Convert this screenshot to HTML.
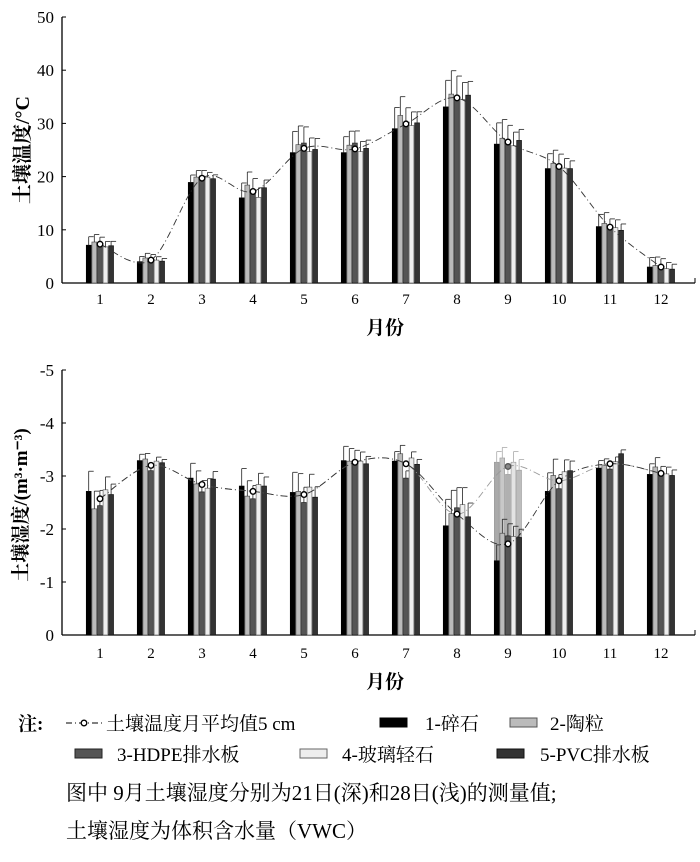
<!DOCTYPE html>
<html><head><meta charset="utf-8"><style>
html,body{margin:0;padding:0;background:#fff;}
svg{display:block;font-family:"Liberation Serif","Noto Serif CJK SC",serif;}
.cj{font-family:"Liberation Serif","Noto Serif CJK SC","Noto Sans CJK SC",serif;}
</style></head><body>
<svg id="c" width="700" height="862" viewBox="0 0 700 862" xmlns="http://www.w3.org/2000/svg">
<g id="top"></g>
<g id="bot"></g>
<g id="legend">
 <text x="18" y="730" font-size="19" font-weight="bold" class="cj">注:</text>
 <line x1="66" y1="723" x2="102" y2="723" stroke="#000" stroke-width="1" stroke-dasharray="6,3,1,3"/>
 <circle cx="84" cy="723" r="2.8" fill="#fff" stroke="#000" stroke-width="1.3"/>
 <text x="106" y="730" font-size="19" class="cj">土壤温度月平均值5 cm</text>
 <rect x="380" y="718" width="27" height="9" fill="#000" stroke="#000"/>
 <text x="425" y="730" font-size="19" class="cj">1-碎石</text>
 <rect x="510" y="718" width="27" height="9" fill="#bbb" stroke="#555"/>
 <text x="550" y="730" font-size="19" class="cj">2-陶粒</text>
 <rect x="75" y="749" width="27" height="9" fill="#555" stroke="#222"/>
 <text x="117" y="761" font-size="19" class="cj">3-HDPE排水板</text>
 <rect x="300" y="749" width="27" height="9" fill="#eee" stroke="#666"/>
 <text x="342" y="761" font-size="19" class="cj">4-玻璃轻石</text>
 <rect x="497" y="749" width="27" height="9" fill="#333" stroke="#111"/>
 <text x="540" y="761" font-size="19" class="cj">5-PVC排水板</text>
 <text x="66" y="800" font-size="21" class="cj">图中 9月土壤湿度分别为21日(深)和28日(浅)的测量值;</text>
 <text x="66" y="838" font-size="21" class="cj">土壤湿度为体积含水量（VWC）</text>
</g>
</svg>
<script>
const months=[1,2,3,4,5,6,7,8,9,10,11,12];
const tempS1=[7.1,4.0,18.9,16.0,24.5,24.5,29.0,33.1,26.1,21.5,10.6,3.0];
const tempS2=[7.7,4.7,19.9,18.4,26.0,25.9,31.5,35.5,27.2,22.5,11.2,3.3];
const tempS3=[7.4,4.6,20.1,17.5,26.3,26.3,29.9,35.1,26.6,22.1,10.3,3.2];
const tempS4=[6.8,4.3,19.9,16.1,24.7,24.7,29.6,34.5,25.8,21.6,10.4,2.7];
const tempS5=[7.0,4.1,19.6,17.9,25.1,25.3,30.1,35.3,26.8,21.5,9.9,2.6];
const tempErr=[1.6,1.0,1.4,2.8,4.0,3.0,4.0,5.0,4.0,2.8,2.3,1.8];
const tempAvg=[7.3,4.3,19.7,17.2,25.3,25.2,29.9,34.8,26.5,21.9,10.5,3.0];
const tempTicks=[0,10,20,30,40,50];
const vwcS1=[2.71,3.29,2.96,2.81,2.69,3.29,3.28,2.06,1.40,2.71,3.15,3.03];
const vwcS2=[2.38,3.32,2.85,2.62,2.71,3.28,3.42,2.29,1.92,3.01,3.20,3.17];
const vwcS3=[2.44,3.10,2.70,2.57,2.50,3.28,2.96,2.40,1.87,2.76,3.13,3.03];
const vwcS4=[2.74,3.28,2.77,2.84,2.79,3.28,3.34,2.46,1.86,3.08,3.27,3.04];
const vwcS5=[2.65,3.25,2.94,2.81,2.60,3.23,3.22,2.23,1.84,3.10,3.42,3.01];
const vwcErr=[0.38,0.12,0.28,0.33,0.38,0.27,0.18,0.5,0.3,0.35,0.14,0.2];
const vwcAvg=[2.57,3.20,2.84,2.71,2.65,3.26,3.23,2.28,1.72,2.91,3.23,3.05];
const vwcDeep=[3.26,3.34,3.03,3.26,3.11];
const vwcDeepAvg=3.18;
const vwcTicks=[0,-1,-2,-3,-4,-5];

const NS="http://www.w3.org/2000/svg";
function mk(p,t,a){const e=document.createElementNS(NS,t);for(const k in a)e.setAttribute(k,a[k]);p.appendChild(e);return e;}
const fills=["#000","#bbb","#555","#eee","#333"];
const strokes=["#000","#555","#222","#666","#111"];
const deepFills=["#aaa","#c8c8c8","#b0b0b0","#e4e4e4","#bdbdbd"];
const xC=m=>100+51*(m-1);
const bw=5.6;
function barX(m,i){return xC(m)-14+i*bw+0.3;}
function smooth(pts){let d="M"+pts[0][0]+","+pts[0][1];
 for(let i=0;i<pts.length-1;i++){const p0=pts[i-1]||pts[i],p1=pts[i],p2=pts[i+1],p3=pts[i+2]||p2;
  d+=" C"+(p1[0]+(p2[0]-p0[0])/6)+","+(p1[1]+(p2[1]-p0[1])/6)+" "+(p2[0]-(p3[0]-p1[0])/6)+","+(p2[1]-(p3[1]-p1[1])/6)+" "+p2[0]+","+p2[1];}
 return d;}

function chart(g,y0,yTop,maxAbs,ticks,xLabelY){
 const yS=v=>y0-(Math.abs(v)/maxAbs)*(y0-yTop);
 const ax=mk(g,'line',{x1:62,y1:yTop,x2:62,y2:y0,stroke:'#000','stroke-width':1.3});
 
 const xa=mk(g,'line',{x1:62,y1:y0,x2:695,y2:y0,stroke:'#000','stroke-width':1.3});
 
 mk(g,'line',{x1:695,y1:y0,x2:695,y2:y0-5,stroke:'#000','stroke-width':1});
 ticks.forEach(t=>{const y=yS(t);
  mk(g,'line',{x1:62,y1:y,x2:66,y2:y,stroke:'#000','stroke-width':1});
  const tx=mk(g,'text',{x:54,y:y+6,'font-size':17,'text-anchor':'end'});tx.textContent=String(t);
  });
 months.forEach(m=>{const tx=mk(g,'text',{x:xC(m),y:xLabelY,'font-size':15,'text-anchor':'middle'});tx.textContent=String(m);
  });
 return yS;}

function drawBars(g,yS,y0,series,err){
 months.forEach((m,j)=>{series.forEach((s,i)=>{const v=s[j];const x=barX(m,i);const y=yS(v);
  const r=mk(g,'rect',{x:x,y:y,width:bw-0.8,height:y0-y,fill:fills[i],stroke:strokes[i],'stroke-width':0.7});
  
  const ye=yS(Math.abs(v)+err[j]*(1-0.12*i));const cx=x+(bw-0.8)/2;
  mk(g,'line',{x1:cx,y1:y,x2:cx,y2:ye,stroke:'#222','stroke-width':0.8});
  mk(g,'line',{x1:cx,y1:ye,x2:cx+5,y2:ye,stroke:'#222','stroke-width':0.8});
 });});}

// top chart
const gt=document.getElementById('top');
const yT=chart(gt,283,17,50,tempTicks,304);
drawBars(gt,yT,283,[tempS1,tempS2,tempS3,tempS4,tempS5],tempErr);
const tp=months.map((m,j)=>[xC(m),yT(tempAvg[j])]);
const tl=mk(gt,'path',{d:smooth(tp),fill:'none',stroke:'#333','stroke-width':0.9,'stroke-dasharray':'7,3,1,3'});

tp.forEach(p=>{const c=mk(gt,'circle',{cx:p[0],cy:p[1],r:2.8,fill:'#fff',stroke:'#000','stroke-width':1.4});
 });
let t1=mk(gt,'text',{x:385,y:334,'font-size':19,'font-weight':'bold','text-anchor':'middle','class':'cj'});t1.textContent='月份';

let t2=mk(gt,'text',{x:0,y:0,'font-size':20,'font-weight':'bold','text-anchor':'middle','class':'cj',transform:'translate(29,150) rotate(-90)'});t2.textContent='土壤温度/°C';


// bottom chart
const gb=document.getElementById('bot');
const yB=chart(gb,635,370,5,vwcTicks,658);
vwcDeep.forEach((v,i)=>{const x=barX(9,i);const y=yB(v);
 const r=mk(gb,'rect',{x:x,y:y,width:bw-0.8,height:635-y,fill:deepFills[i],stroke:'#999','stroke-width':0.6});
 
 const ye=yB(v+0.2);const cx=x+(bw-0.8)/2;
 mk(gb,'line',{x1:cx,y1:y,x2:cx,y2:ye,stroke:'#aaa','stroke-width':0.8});
 mk(gb,'line',{x1:cx,y1:ye,x2:cx+5,y2:ye,stroke:'#aaa','stroke-width':0.8});});
drawBars(gb,yB,635,[vwcS1,vwcS2,vwcS3,vwcS4,vwcS5],vwcErr);
const deepAvgs=vwcAvg.slice();deepAvgs[8]=vwcDeepAvg;
const dp=months.map((m,j)=>[xC(m),yB(deepAvgs[j])]);
const gl=mk(gb,'path',{d:smooth(dp),fill:'none',stroke:'#999','stroke-width':0.9,'stroke-dasharray':'7,3,1,3'});

const bp=months.map((m,j)=>[xC(m),yB(vwcAvg[j])]);
const bl=mk(gb,'path',{d:smooth(bp),fill:'none',stroke:'#333','stroke-width':0.9,'stroke-dasharray':'7,3,1,3'});

const dc=mk(gb,'circle',{cx:xC(9),cy:yB(vwcDeepAvg),r:2.8,fill:'#888',stroke:'#555','stroke-width':1.4});

bp.forEach(p=>{const c=mk(gb,'circle',{cx:p[0],cy:p[1],r:2.8,fill:'#fff',stroke:'#000','stroke-width':1.4});
 });
let t3=mk(gb,'text',{x:385,y:688,'font-size':19,'font-weight':'bold','text-anchor':'middle','class':'cj'});t3.textContent='月份';

let t4=mk(gb,'text',{x:0,y:0,'font-size':19,'font-weight':'bold','text-anchor':'middle','class':'cj',transform:'translate(27,505) rotate(-90)'});t4.textContent='土壤湿度/(m³·m⁻³)';

</script>
</body></html>
